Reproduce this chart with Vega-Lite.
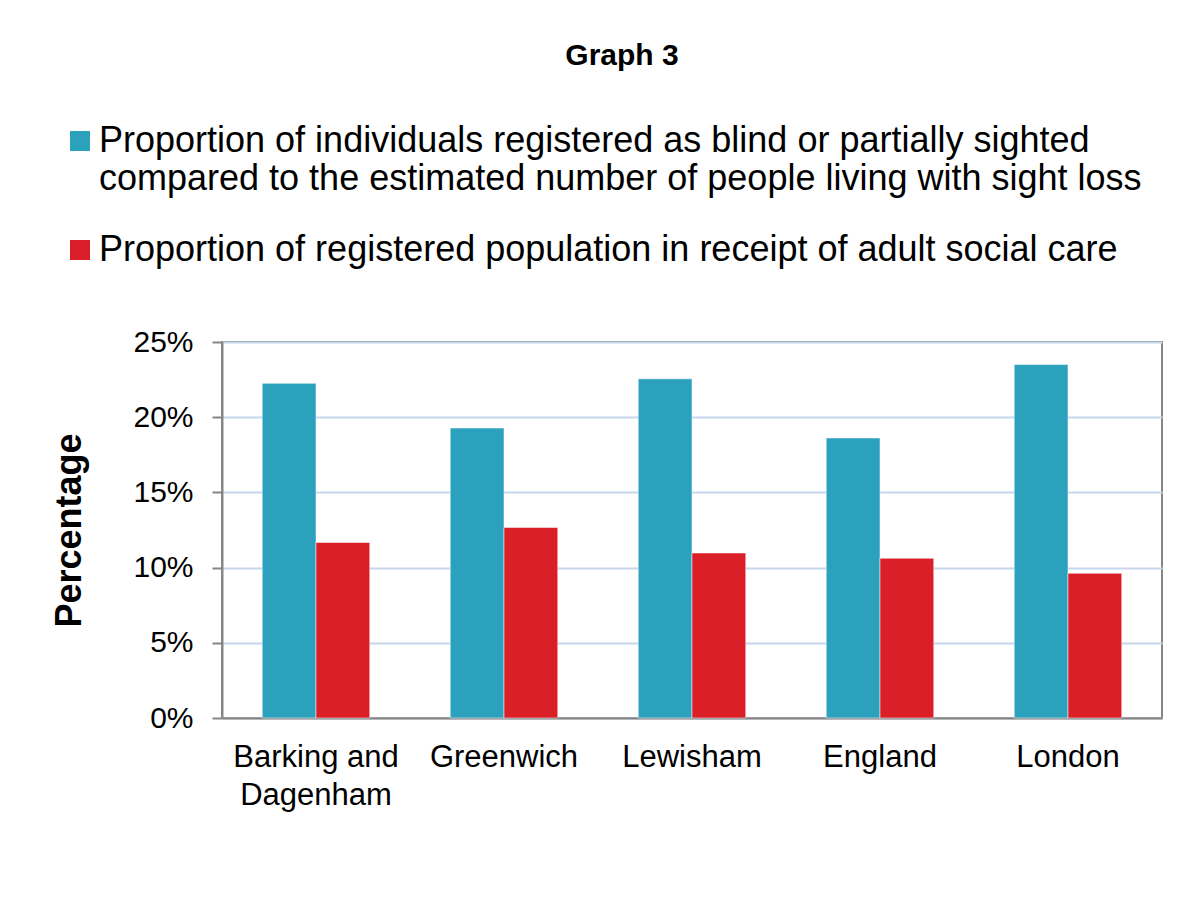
{
  "$schema": "https://vega.github.io/schema/vega-lite/v6.json",
  "autosize": {"type": "none"},
  "padding": {"left": 222, "top": 342, "right": 30, "bottom": 188},
  "width": 940,
  "height": 376,
  "background": "white",
  "title": {
    "text": "Graph 3",
    "font": "Liberation Sans",
    "fontSize": 30,
    "fontWeight": "bold",
    "color": "black",
    "anchor": "middle",
    "frame": "group",
    "dx": -70,
    "offset": 52
  },
  "data": {
    "values": [
      {"area": "Barking and Dagenham", "series": "Proportion of individuals registered as blind or partially sighted compared to the estimated number of people living with sight loss", "value": 0.2225},
      {"area": "Barking and Dagenham", "series": "Proportion of registered population in receipt of adult social care", "value": 0.1167},
      {"area": "Greenwich", "series": "Proportion of individuals registered as blind or partially sighted compared to the estimated number of people living with sight loss", "value": 0.1928},
      {"area": "Greenwich", "series": "Proportion of registered population in receipt of adult social care", "value": 0.1267},
      {"area": "Lewisham", "series": "Proportion of individuals registered as blind or partially sighted compared to the estimated number of people living with sight loss", "value": 0.2255},
      {"area": "Lewisham", "series": "Proportion of registered population in receipt of adult social care", "value": 0.1097},
      {"area": "England", "series": "Proportion of individuals registered as blind or partially sighted compared to the estimated number of people living with sight loss", "value": 0.1862},
      {"area": "England", "series": "Proportion of registered population in receipt of adult social care", "value": 0.1062},
      {"area": "London", "series": "Proportion of individuals registered as blind or partially sighted compared to the estimated number of people living with sight loss", "value": 0.2350},
      {"area": "London", "series": "Proportion of registered population in receipt of adult social care", "value": 0.0962}
    ]
  },
  "mark": {"type": "bar", "stroke": "white", "strokeWidth": 1, "strokeOpacity": 0.5},
  "encoding": {
    "x": {
      "field": "area",
      "type": "nominal",
      "sort": ["Barking and Dagenham", "Greenwich", "Lewisham", "England", "London"],
      "scale": {"paddingInner": 0.428, "paddingOuter": 0.214},
      "axis": {
        "title": null,
        "labelAngle": 0,
        "labelFont": "Liberation Sans",
        "labelFontSize": 31,
        "labelColor": "black",
        "labelPadding": 24,
        "labelLineHeight": 38,
        "labelLimit": 0,
        "labelExpr": "datum.label == 'Barking and Dagenham' ? ['Barking and', 'Dagenham'] : datum.label",
        "ticks": false,
        "domain": true,
        "domainColor": "#868686",
        "domainWidth": 2,
        "grid": false
      }
    },
    "xOffset": {
      "field": "series",
      "type": "nominal",
      "scale": {"paddingInner": 0, "paddingOuter": 0}
    },
    "y": {
      "field": "value",
      "type": "quantitative",
      "scale": {"domain": [0, 0.25], "nice": false},
      "axis": {
        "title": "Percentage",
        "titleFont": "Liberation Sans",
        "titleFontSize": 36,
        "titleFontWeight": "bold",
        "titleColor": "black",
        "titlePadding": 44,
        "values": [0, 0.05, 0.1, 0.15, 0.2, 0.25],
        "format": ".0%",
        "labelFont": "Liberation Sans",
        "labelFontSize": 30,
        "labelColor": "black",
        "labelPadding": 19,
        "tickSize": 10,
        "tickColor": "#868686",
        "tickWidth": 2,
        "domainColor": "#868686",
        "domainWidth": 2,
        "gridColor": "#c6d6ec",
        "gridWidth": 2
      }
    },
    "color": {
      "field": "series",
      "type": "nominal",
      "scale": {
        "domain": ["Proportion of individuals registered as blind or partially sighted compared to the estimated number of people living with sight loss", "Proportion of registered population in receipt of adult social care"],
        "range": ["#2CA1BE", "#DA1F28"]
      },
      "legend": {
        "title": null,
        "orient": "none",
        "legendX": -160,
        "legendY": -219,
        "symbolType": "square",
        "symbolSize": 400,
        "symbolStrokeWidth": 0,
        "symbolOpacity": 1,
        "labelFont": "Liberation Sans",
        "labelFontSize": 36,
        "labelColor": "black",
        "labelLimit": 0,
        "labelOffset": 1,
        "rowPadding": 35,
        "labelExpr": "length(datum.label) > 80 ? ['Proportion of individuals registered as blind or partially sighted', 'compared to the estimated number of people living with sight loss'] : datum.label",
        "encode": {
          "labels": {"update": {"lineHeight": {"value": 39}}}
        }
      }
    }
  },
  "config": {
    "view": {"stroke": "#868686", "strokeWidth": 2},
    "font": "Liberation Sans"
  }
}
